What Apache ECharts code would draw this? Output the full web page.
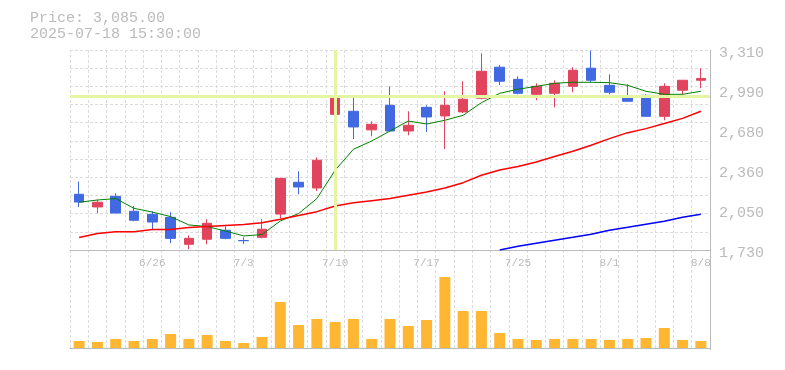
<!DOCTYPE html>
<html>
<head>
<meta charset="utf-8">
<script src="https://cdn.jsdelivr.net/npm/echarts@6/dist/echarts.min.js"></script>
<style>html,body{margin:0;padding:0;background:#fff;}#c{width:785px;height:370px;}</style>
</head>
<body>
<div id="c"></div>
<script>
const categories = ['6/20','6/23','6/24','6/25','6/26','6/27','6/30','7/1','7/2','7/3','7/4','7/7','7/8','7/9','7/10','7/11','7/14','7/15','7/16','7/17','7/18','7/22','7/23','7/24','7/25','7/28','7/29','7/30','7/31','8/1','8/4','8/5','8/6','8/7','8/8'];
const openP  = [2170,2070,2154,2036,2012,1988,1775,1815,1886,1805,1830,2014,2265,2220,2802,2826,2679,2873,2670,2857,2789,2821,2929,3174,3078,2960,2968,3023,3166,3031,2936,2952,2786,2992,3071];
const closeP = [2109,2107,2022,1965,1951,1822,1822,1941,1822,1803,1894,2296,2228,2439,2943,2702,2723,2670,2715,2781,2873,2921,3142,3063,2968,3023,3047,3150,3071,2976,2905,2786,3023,3071,3085];
const lowP   = [2070,2022,2022,1957,1886,1785,1736,1775,1815,1777,1822,1980,2170,2196,2794,2607,2628,2670,2636,2662,2528,2812,2921,3033,2960,2913,2857,2976,3055,2960,2905,2786,2755,2960,3008];
const highP  = [2270,2128,2178,2078,2036,2028,1846,1973,1917,1830,1973,2298,2352,2462,2945,2952,2747,3023,2826,2873,2984,3063,3284,3192,3102,3047,3071,3174,3305,3118,3039,2960,3047,3071,3166];
const ma5  = [2107,2125,2136,2059,2030,1994,1928,1915,1880,1841,1852,1959,2018,2136,2360,2526,2591,2670,2749,2725,2755,2794,2894,2968,3000,3023,3047,3055,3055,3052,3031,2984,2960,2960,2984];
const ma25 = [1828,1860,1875,1875,1891,1891,1907,1915,1923,1931,1946,1973,2002,2033,2078,2104,2120,2136,2162,2188,2220,2262,2320,2362,2389,2425,2468,2510,2557,2610,2657,2689,2729,2770,2826];
const ma75 = [null,null,null,null,null,null,null,null,null,null,null,null,null,null,null,null,null,null,null,null,null,null,null,1730,1759,1783,1807,1830,1854,1886,1909,1933,1957,1988,2012];
const volume = [35,30,45,35,45,70,45,65,35,25,55,230,115,145,130,145,45,145,110,140,355,185,185,75,45,40,45,45,45,40,45,50,100,40,35];
const yTickLabels = ['1,730','2,050','2,360','2,680','2,990','3,310'];
const headerPrice = 'Price: 3,085.00';
const headerTime = '2025-07-18 15:30:00';
const crossCategory = '7/10';
const crossPrice = 2943;

const candleData = categories.map((c, i) => [openP[i], closeP[i], lowP[i], highP[i]]);
const FONT = 'Liberation Mono';
const GRID_DASH = { color: '#dcdcdc', type: [3, 2], width: 1 };

const chart = echarts.init(document.getElementById('c'), null, { renderer: 'canvas' });
chart.setOption({
  animation: false,
  title: {
    text: headerPrice + '\n' + headerTime,
    left: 30, top: 10, padding: 0,
    textStyle: { fontFamily: FONT, fontSize: 15, fontWeight: 'normal', color: '#bbbbbb', lineHeight: 16 }
  },
  grid: [
    { left: 70, right: 75, top: 50, height: 200 },
    { left: 70, right: 75, top: 250, height: 100 }
  ],
  xAxis: [
    {
      type: 'category', gridIndex: 0, data: categories, boundaryGap: true,
      axisLine: { lineStyle: { color: '#bbbbbb', width: 1 } },
      axisTick: { show: false },
      axisLabel: {
        interval: (idx) => idx % 5 === 4,
        color: '#bbbbbb', fontFamily: FONT, fontSize: 11, margin: 8
      },
      splitLine: { show: true, interval: 0, lineStyle: GRID_DASH }
    },
    {
      type: 'category', gridIndex: 1, data: categories, boundaryGap: true,
      axisLine: { lineStyle: { color: '#bbbbbb', width: 1 } },
      axisTick: { show: false },
      axisLabel: { show: false },
      splitLine: { show: true, interval: 0, lineStyle: GRID_DASH }
    }
  ],
  yAxis: [
    {
      type: 'value', gridIndex: 0, min: 1730, max: 3310, position: 'right',
      axisLine: { show: false }, axisTick: { show: false }, axisLabel: { show: false }, splitLine: { show: false }
    },
    {
      type: 'value', gridIndex: 0, min: 0, max: 5, interval: 1, position: 'right',
      axisLine: { show: true, lineStyle: { color: '#bbbbbb', width: 1 } },
      axisTick: { show: false },
      axisLabel: {
        formatter: (v) => '{t|' + yTickLabels[Math.round(v)] + '}',
        rich: { t: { color: '#bbbbbb', fontFamily: FONT, fontSize: 15, lineHeight: 15, padding: [7, 0, 0, 0] } },
        color: '#bbbbbb', fontFamily: FONT, fontSize: 15, margin: 9,
        verticalAlign: 'middle'
      },
      splitLine: { show: false }
    },
    {
      type: 'value', gridIndex: 0, min: 0, max: 11, interval: 1, position: 'left',
      axisLine: { show: false }, axisTick: { show: false }, axisLabel: { show: false },
      splitLine: { show: true, lineStyle: GRID_DASH }
    },
    {
      type: 'value', gridIndex: 1, min: -10, max: 490, position: 'right',
      axisLine: { show: true, lineStyle: { color: '#bbbbbb', width: 1 } },
      axisTick: { show: false }, axisLabel: { show: false }, splitLine: { show: false }
    }
  ],
  series: [
    {
      name: 'cross', type: 'line', xAxisIndex: 0, yAxisIndex: 0, data: [], z: 1,
      markLine: {
        silent: true, symbol: ['none', 'none'], label: { show: false },
        lineStyle: { color: '#e4f6a4', width: 3, type: 'solid' },
        emphasis: { disabled: true },
        data: [{ xAxis: crossCategory }, { yAxis: crossPrice }]
      }
    },
    {
      name: 'price', type: 'candlestick', xAxisIndex: 0, yAxisIndex: 0, data: candleData,
      barWidth: 10, z: 3,
      itemStyle: { color: '#e2445e', color0: '#4169e1', borderColor: '#e2445e', borderColor0: '#4169e1', borderWidth: 1 }
    },
    { name: 'MA5', type: 'line', xAxisIndex: 0, yAxisIndex: 0, data: ma5, symbol: 'none', z: 4,
      lineStyle: { color: '#008000', width: 1 } },
    { name: 'MA25', type: 'line', xAxisIndex: 0, yAxisIndex: 0, data: ma25, symbol: 'none', z: 4,
      lineStyle: { color: '#ff0000', width: 1.5 } },
    { name: 'MA75', type: 'line', xAxisIndex: 0, yAxisIndex: 0, data: ma75, symbol: 'none', z: 4,
      lineStyle: { color: '#0000ff', width: 1.5 } },
    {
      name: 'volume', type: 'bar', xAxisIndex: 1, yAxisIndex: 3, data: volume, barWidth: 11,
      itemStyle: { color: '#ffb733' }
    }
  ]
});
</script>
</body>
</html>
